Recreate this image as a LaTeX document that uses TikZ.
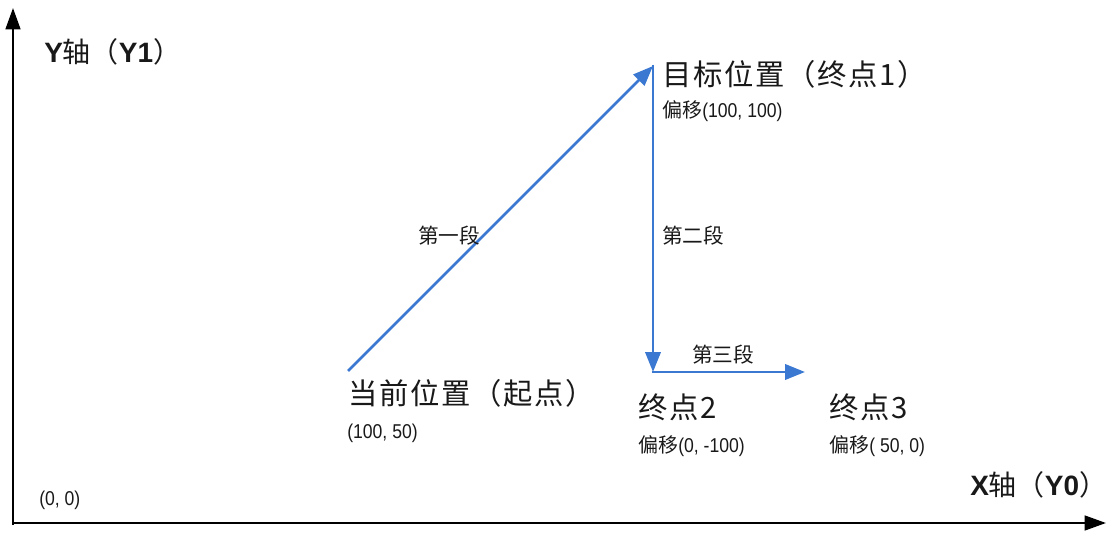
\documentclass[tikz,border=0pt]{standalone}
\usepackage{fontspec}
\setmainfont{Liberation Sans}
\newfontfamily\cjk{Noto Sans CJK SC}
\newfontfamily\cjkwide[LetterSpace=6]{Noto Sans CJK SC}
\newfontfamily\narrow[FakeStretch=0.88]{Liberation Sans}
\usetikzlibrary{arrows.meta}
\definecolor{segblue}{RGB}{58,120,210}
\definecolor{txt}{RGB}{25,25,25}
\tikzset{
  axis/.style={line width=1.9pt, black, -{Triangle[length=16pt,width=11pt]}},
  seg/.style={line width=2.1pt, segblue, -{Triangle[length=15pt,width=11.5pt]}},
  lbl/.style={anchor=west, inner sep=0pt, text=txt},
  big/.style={lbl, font=\fontsize{22}{26}\selectfont\cjkwide},
  axlbl/.style={lbl, font=\fontsize{21}{25}\selectfont},
  small/.style={lbl, font=\fontsize{15}{18}\selectfont\narrow},
  seglbl/.style={lbl, font=\fontsize{15.5}{18}\selectfont\cjk},
}
\begin{document}
\begin{tikzpicture}[x=0.75pt, y=-0.75pt]
\useasboundingbox (0,0) rectangle (1109,534);
% axes
\coordinate (O) at (13,523);
\coordinate (ytip) at (13,8);
\coordinate (xtip) at (1106,523);
\draw[axis] (13,525) -- (ytip);
\draw[axis] (12,523) -- (xtip);
% points
\coordinate (start) at (348,371);
\coordinate (target) at (653,66);
\coordinate (end2) at (653,372);
\coordinate (end3) at (805,372);
\draw[seg] (start) -- (target);
\draw[seg, shorten <=-1pt] (target) -- (end2);
\draw[seg, shorten <=-1pt] (end2) -- (end3);
% labels
\node[axlbl] (ylab) at (44,52) {{\bfseries Y}{\cjk 轴（}{\bfseries Y1}{\cjk ）}};
\node[axlbl] (xlab) at (970,485) {{\bfseries X}{\cjk 轴（}{\bfseries Y0}{\cjk ）}};
\node[small] (orig) at (39,500) {(0, 0)};
\node[big] (tgtlab) at (662,74) {目标位置（终点1）};
\node[small] (tgtoff) at (662,111) {{\cjk 偏移}(100, 100)};
\node[big] (startlab) at (348,393) {当前位置（起点）};
\node[small] (startoff) at (347,433) {(100, 50)};
\node[big] (e2lab) at (638,407) {终点2};
\node[small] (e2off) at (638,446) {{\cjk 偏移}(0, -100)};
\node[big] (e3lab) at (829,407) {终点3};
\node[small] (e3off) at (829,446) {{\cjk 偏移}( 50, 0)};
\node[seglbl] (s1) at (418,236) {第一段};
\node[seglbl] (s2) at (662,236) {第二段};
\node[seglbl] (s3) at (692,355) {第三段};
\end{tikzpicture}
\end{document}
